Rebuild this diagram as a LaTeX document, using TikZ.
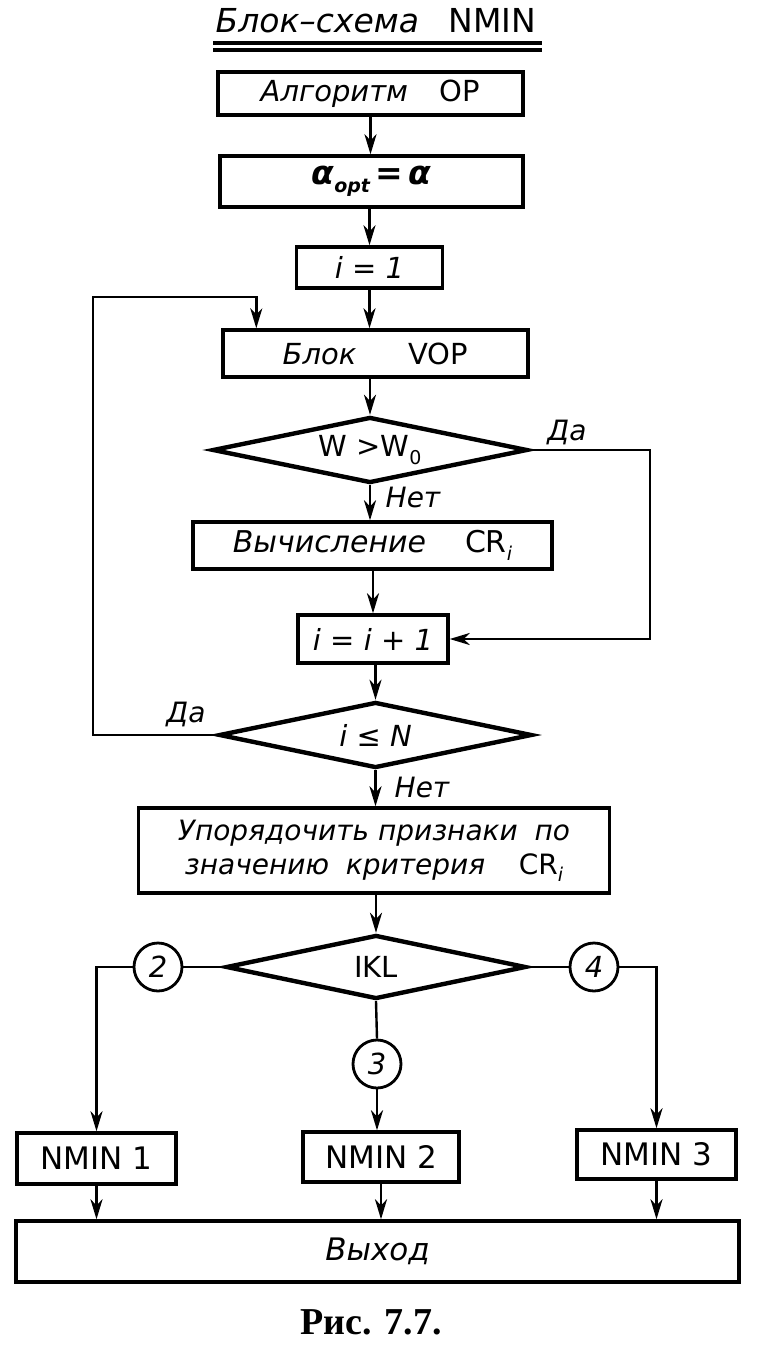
\documentclass[tikz,border=0pt]{standalone}
\usepackage{fontspec}
\setmainfont{DejaVu Sans}
\newfontfamily\capfont{Liberation Serif}
\usetikzlibrary{arrows.meta,shapes.geometric,calc}
\newcommand\lowsub[1]{\raisebox{-0.45ex}{\fontsize{19}{19}\selectfont #1}}
\begin{document}
\begin{tikzpicture}[x=1pt,y=-1pt,
  box/.style={draw, line width=3.4pt, inner sep=0pt, font=\fontsize{29}{32}\selectfont},
  dia/.style={draw, diamond, aspect=4.8, line width=4.4pt, inner sep=0pt, font=\fontsize{29}{32}\selectfont},
  conn/.style={draw, circle, line width=2.8pt, inner sep=0pt, minimum size=48pt, font=\fontsize{29}{32}\selectfont\itshape},
  ln/.style={line width=2.4pt},
  arr/.style={line width=2.4pt, -{Stealth[length=20pt,width=12pt,inset=6pt]}},
  lbl/.style={font=\fontsize{28}{30}\selectfont\itshape, inner sep=0pt},
]
\useasboundingbox[fill=white] (0,0) rectangle (768,1366);

% title
\node[anchor=base, font=\fontsize{33}{36}\selectfont, inner sep=0pt] (title) at (376,32) {\itshape Блок–схема\hspace{0.9em}\upshape NMIN};
\draw[line width=3.2pt] (213,43) -- (542,43);
\draw[line width=3.2pt] (213,50) -- (542,50);

% blocks
\node[box, minimum width=305pt, minimum height=43pt] (b1) at (370.5,93.5) {\itshape Алгоритм\hspace{1.1em}\upshape OP};
\node[box, minimum width=303pt, minimum height=51pt, font=\fontsize{33}{36}\selectfont] (b2) at (371.5,181.5) {\bfseries\itshape α\lowsub{opt}\,=\,α};
\node[box, minimum width=146pt, minimum height=41pt] (b3) at (369.5,267.5) {\itshape i = 1};
\node[box, minimum width=305pt, minimum height=47pt] (b4) at (375.5,353.5) {\itshape Блок\hspace{1.8em}\upshape VOP};
\node[dia, minimum width=315pt, minimum height=66pt] (d1) at (370,450) {W >W\lowsub{0}};
\node[box, minimum width=359pt, minimum height=47pt, font=\fontsize{30}{32}\selectfont] (b5) at (372.5,545.5) {\itshape Вычисление\hspace{1.3em}\upshape CR\lowsub{\itshape i}};
\node[box, minimum width=150pt, minimum height=48pt] (b6) at (373,639) {\itshape i = i + 1};
\node[dia, minimum width=313pt, minimum height=66pt] (d2) at (375.5,735) {\itshape i ≤ N};
\node[box, minimum width=471pt, minimum height=85pt, align=center, font=\fontsize{28}{34}\selectfont] (b7) at (374,850.5)
  {\itshape Упорядочить признаки\hspace{0.6em}по\\\itshape значению\hspace{0.6em}критерия\hspace{1.2em}\upshape CR\lowsub{\itshape i}};
\node[dia, minimum width=300pt, minimum height=64pt] (d3) at (376,967) {IKL};
\node[conn] (c2) at (158,967) {2};
\node[conn] (c4) at (594,967) {4};
\node[conn] (c3) at (377,1064) {3};
\node[box, minimum width=159pt, minimum height=51pt, font=\fontsize{31}{34}\selectfont] (n1) at (96.5,1158.5) {NMIN 1};
\node[box, minimum width=156pt, minimum height=50pt, font=\fontsize{31}{34}\selectfont] (n2) at (381,1157) {NMIN 2};
\node[box, minimum width=159pt, minimum height=49pt, font=\fontsize{31}{34}\selectfont] (n3) at (656.5,1154.5) {NMIN 3};
\node[box, minimum width=723pt, minimum height=61pt, font=\fontsize{31}{34}\selectfont] (out) at (377.5,1251.5) {\itshape Выход};

% caption
\node[font=\capfont\bfseries\fontsize{38}{40}\selectfont, inner sep=0pt] (cap) at (371,1322) {Рис. 7.7.};

% labels
\node[lbl] (da1) at (567,432) {Да};
\node[lbl] (net1) at (413,497) {Нет};
\node[lbl] (da2) at (186,714) {Да};
\node[lbl] (net2) at (422,787) {Нет};

% connectors
\coordinate (r1) at (650,639);
\coordinate (l1) at (93,297);
\coordinate (l2) at ($(b4.north west)+(35,0)$);
\draw[arr] (b1.south) -- (b1.south |- b2.north);
\draw[arr] (b3.north |- b2.south) -- (b3.north);
\draw[arr] (b3.south) -- (b3.south |- b4.north);
\draw[arr] (d1.north |- b4.south) -- (d1.north);
\draw[arr] (d1.south) -- (d1.south |- b5.north);
\draw[arr] (d1.east) -| (r1) -- (b6.east);
\draw[arr] (b6.north |- b5.south) -- (b6.north);
\draw[arr] (d2.north |- b6.south) -- (d2.north);
\draw[arr] (d2.west) -| (l1) -| (l2);
\draw[arr] (d2.south) -- (d2.south |- b7.north);
\draw[arr] (d3.north |- b7.south) -- (d3.north);
\draw[ln] (d3.west) -- (c2.east);
\draw[arr] (c2.west) -| (n1.north);
\draw[ln] (d3.east) -- (c4.west);
\draw[arr] (c4.east) -| (n3.north);
\draw[ln] (d3.south) -- (c3.north);
\draw[arr] (c3.south) -- (c3.south |- n2.north);
\draw[arr] (n1.south) -- (n1.south |- out.north);
\draw[arr] (n2.south) -- (n2.south |- out.north);
\draw[arr] (n3.south) -- (n3.south |- out.north);
\end{tikzpicture}
\end{document}
